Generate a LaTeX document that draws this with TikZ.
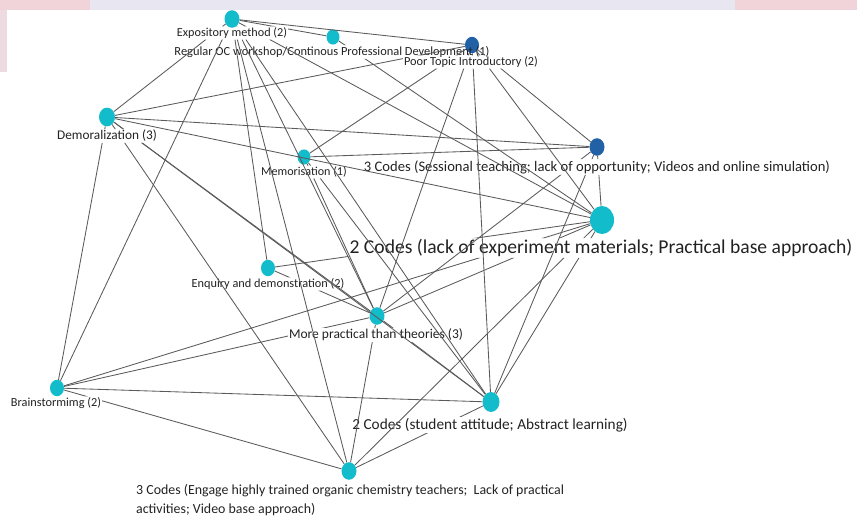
\documentclass[tikz,border=0pt]{standalone}
\usepackage{fontspec}
\setmainfont{Carlito}
\usetikzlibrary{shapes.geometric}
\definecolor{ink}{HTML}{222222}
\definecolor{wire}{HTML}{5A5A5A}
\definecolor{codeTeal}{HTML}{12BCCB}
\definecolor{codeNavy}{HTML}{2361A6}
\definecolor{haze}{HTML}{E8E6F0}
\definecolor{blush}{HTML}{F0D4DA}
\tikzset{
  dot/.style={ellipse,fill=codeTeal,inner sep=0pt,minimum width=#1,minimum height=1.17*#1},
  dot/.default=15pt,
  navydot/.style={dot=#1,fill=codeNavy},
  navydot/.default=15pt,
  tag/.style={font=\fontsize{#1}{19}\selectfont,text=ink,inner sep=1pt},
  tag/.default=13,
  link/.style={draw=wire,line width=0.85pt}
}
% edge between two codes, hidden inside both own labels
\newcommand\linkcodes[2]{%
  \begin{scope}[even odd rule]
    \clip (0,0) rectangle (857,517)
      (#1-t.south west) rectangle (#1-t.north east)
      (#2-t.south west) rectangle (#2-t.north east);
    \draw[link] (#1) -- (#2);
  \end{scope}}

\begin{document}
\begin{tikzpicture}[x=1pt,y=-1pt]
  \useasboundingbox (0,0) rectangle (857,517);
  % faint page watermark
  \fill[haze] (0,0) rectangle (857,10);
  \fill[blush] (0,0) rectangle (90,10);
  \fill[blush] (735,0) rectangle (857,10);
  \fill[blush!70!haze] (0,10) rectangle (7,72);

  % codes
  \node[dot] (expo) at (232,19) {};
  \node[dot=13pt] (regular) at (333,37) {};
  \node[navydot=14pt] (poor) at (472,45) {};
  \node[dot=16pt] (demor) at (107,117) {};
  \node[dot=13pt] (memor) at (304,157) {};
  \node[navydot] (sess) at (597,147) {};
  \node[dot=24pt] (lack) at (602,220) {};
  \node[dot=14pt] (enq) at (268,268) {};
  \node[dot] (pract) at (377,316) {};
  \node[dot=14pt] (brain) at (57,388) {};
  \node[dot=17pt] (attit) at (491,402) {};
  \node[dot] (engage) at (349,471) {};

  \node[tag=12.2] (expo-t) at (232,33) {Expository method (2)};
  \node[tag=12.4] (regular-t) at (332,52) {Regular OC workshop/Continous Professional Development (1)};
  \node[tag=12.3] (poor-t) at (471,62) {Poor Topic Introductory (2)};
  \node[tag=13.3] (demor-t) at (107,136) {Demoralization (3)};
  \node[tag=12.1] (memor-t) at (304,172) {Memorisation (1)};
  \node[tag=14.6] (sess-t) at (597,167) {3 Codes (Sessional teaching; lack of opportunity; Videos and online simulation)};
  \node[tag=19.6] (lack-t) at (601,248) {2 Codes (lack of experiment materials; Practical base approach)};
  \node[tag=12.3] (enq-t) at (268,284) {Enquiry and demonstration (2)};
  \node[tag=13.5] (pract-t) at (376,335) {More practical than theories (3)};
  \node[tag=12.3] (brain-t) at (56,403) {Brainstormimg (2)};
  \node[tag=15.3] (attit-t) at (490,425) {2 Codes (student attitude; Abstract learning)};
  \node[tag=13.9,align=left,anchor=west] (engage-t) at (135,500) {3 Codes (Engage highly trained organic chemistry teachers;~ Lack of practical\\activities; Video base approach)};

  % co-occurrence links
  \foreach \a/\b in {expo/regular,expo/poor,expo/demor,expo/brain,expo/enq,expo/engage,
      expo/pract,expo/attit,expo/lack,regular/lack,
      poor/demor,poor/memor,poor/pract,poor/attit,poor/lack,poor/sess,
      demor/sess,demor/lack,demor/brain,demor/engage,demor/pract,demor/attit,
      memor/sess,memor/pract,memor/attit,sess/lack,sess/pract,sess/attit,
      lack/enq,lack/brain,lack/pract,lack/attit,lack/engage,enq/pract,
      pract/brain,pract/attit,pract/engage,brain/attit,brain/engage,attit/engage}
    \linkcodes{\a}{\b};
\end{tikzpicture}
\end{document}
